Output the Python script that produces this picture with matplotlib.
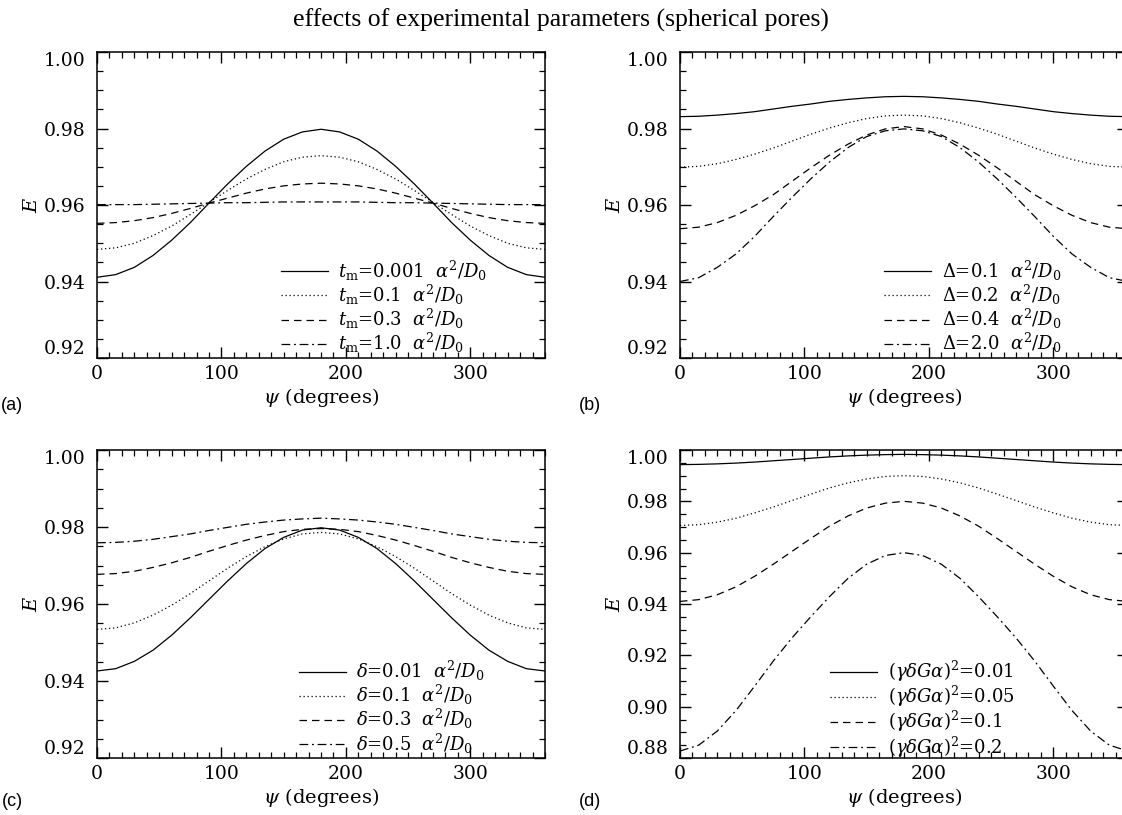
import numpy as np
import matplotlib
matplotlib.use("Agg")
import matplotlib.pyplot as plt
from matplotlib.ticker import MultipleLocator

plt.rcParams['font.family'] = 'DejaVu Serif'
plt.rcParams['mathtext.fontset'] = 'dejavuserif'

# angle between the two gradient pulses, sampled every 15 degrees
psi = [0, 15, 30, 45, 60, 75, 90, 105, 120, 135, 150, 165, 180,
       195, 210, 225, 240, 255, 270, 285, 300, 315, 330, 345, 360]

# (a) mixing time t_m
tm_labels = [r'$t_{\rm m}$=0.001  $\alpha^2/D_0$', r'$t_{\rm m}$=0.1  $\alpha^2/D_0$',
             r'$t_{\rm m}$=0.3  $\alpha^2/D_0$', r'$t_{\rm m}$=1.0  $\alpha^2/D_0$']
tm_0001 = [0.9411, 0.9418, 0.9437, 0.9468, 0.9508, 0.9554, 0.9605, 0.9655, 0.9701, 0.9741, 0.9772, 0.9791, 0.9798,
           0.9791, 0.9772, 0.9741, 0.9701, 0.9655, 0.9605, 0.9554, 0.9508, 0.9468, 0.9437, 0.9418, 0.9411]
tm_01 = [0.9484, 0.9488, 0.9500, 0.9520, 0.9545, 0.9575, 0.9607, 0.9638, 0.9668, 0.9693, 0.9713, 0.9725, 0.9729,
         0.9725, 0.9713, 0.9693, 0.9668, 0.9638, 0.9607, 0.9575, 0.9545, 0.9520, 0.9500, 0.9488, 0.9484]
tm_03 = [0.9552, 0.9554, 0.9559, 0.9567, 0.9578, 0.9591, 0.9605, 0.9618, 0.9631, 0.9642, 0.9650, 0.9655, 0.9657,
         0.9655, 0.9650, 0.9642, 0.9631, 0.9618, 0.9605, 0.9591, 0.9578, 0.9567, 0.9559, 0.9554, 0.9552]
tm_10 = [0.9601, 0.9601, 0.9601, 0.9602, 0.9603, 0.9604, 0.9605, 0.9606, 0.9606, 0.9607, 0.9608, 0.9608, 0.9608,
         0.9608, 0.9608, 0.9607, 0.9606, 0.9606, 0.9605, 0.9604, 0.9603, 0.9602, 0.9601, 0.9601, 0.9601]

# (b) diffusion time Delta
Delta_labels = [r'$\Delta$=0.1  $\alpha^2/D_0$', r'$\Delta$=0.2  $\alpha^2/D_0$',
                r'$\Delta$=0.4  $\alpha^2/D_0$', r'$\Delta$=2.0  $\alpha^2/D_0$']
Delta_01 = [0.9831, 0.9832, 0.9835, 0.9839, 0.9844, 0.9851, 0.9858, 0.9864, 0.9871, 0.9876, 0.9880, 0.9883, 0.9884,
            0.9883, 0.9880, 0.9876, 0.9871, 0.9864, 0.9858, 0.9851, 0.9844, 0.9839, 0.9835, 0.9832, 0.9831]
Delta_02 = [0.9699, 0.9701, 0.9708, 0.9719, 0.9733, 0.9749, 0.9767, 0.9785, 0.9801, 0.9815, 0.9826, 0.9833, 0.9835,
            0.9833, 0.9826, 0.9815, 0.9801, 0.9785, 0.9767, 0.9749, 0.9733, 0.9719, 0.9708, 0.9701, 0.9699]
Delta_04 = [0.9538, 0.9542, 0.9554, 0.9573, 0.9598, 0.9627, 0.9662, 0.9697, 0.9730, 0.9759, 0.9783, 0.9799, 0.9805,
            0.9799, 0.9783, 0.9759, 0.9730, 0.9697, 0.9662, 0.9627, 0.9598, 0.9573, 0.9554, 0.9542, 0.9538]
Delta_20 = [0.9400, 0.9410, 0.9437, 0.9472, 0.9518, 0.9570, 0.9620, 0.9668, 0.9712, 0.9750, 0.9779, 0.9794, 0.9799,
            0.9794, 0.9779, 0.9750, 0.9712, 0.9668, 0.9620, 0.9570, 0.9518, 0.9472, 0.9437, 0.9410, 0.9400]

# (c) pulse width delta
delta_labels = [r'$\delta$=0.01  $\alpha^2/D_0$', r'$\delta$=0.1  $\alpha^2/D_0$',
                r'$\delta$=0.3  $\alpha^2/D_0$', r'$\delta$=0.5  $\alpha^2/D_0$']
delta_001 = [0.9426, 0.9432, 0.9451, 0.9480, 0.9519, 0.9564, 0.9612, 0.9660, 0.9705, 0.9744, 0.9773, 0.9792, 0.9798,
             0.9792, 0.9773, 0.9744, 0.9705, 0.9660, 0.9612, 0.9564, 0.9519, 0.9480, 0.9451, 0.9432, 0.9426]
delta_01 = [0.9534, 0.9538, 0.9551, 0.9571, 0.9597, 0.9627, 0.9660, 0.9693, 0.9723, 0.9749, 0.9769, 0.9782, 0.9786,
            0.9782, 0.9769, 0.9749, 0.9723, 0.9693, 0.9660, 0.9627, 0.9597, 0.9571, 0.9551, 0.9538, 0.9534]
delta_03 = [0.9677, 0.9679, 0.9685, 0.9695, 0.9707, 0.9721, 0.9737, 0.9752, 0.9766, 0.9778, 0.9788, 0.9794, 0.9796,
            0.9794, 0.9788, 0.9778, 0.9766, 0.9752, 0.9737, 0.9721, 0.9707, 0.9695, 0.9685, 0.9679, 0.9677]
delta_05 = [0.9759, 0.9760, 0.9763, 0.9768, 0.9775, 0.9782, 0.9791, 0.9799, 0.9807, 0.9813, 0.9818, 0.9821, 0.9823,
            0.9821, 0.9818, 0.9813, 0.9807, 0.9799, 0.9791, 0.9782, 0.9775, 0.9768, 0.9763, 0.9760, 0.9759]

# (d) gradient strength (gamma delta G a)^2
q_labels = [r'$(\gamma\delta G\alpha)^2$=0.01', r'$(\gamma\delta G\alpha)^2$=0.05',
            r'$(\gamma\delta G\alpha)^2$=0.1', r'$(\gamma\delta G\alpha)^2$=0.2']
q_001 = [0.9943, 0.9944, 0.9946, 0.9949, 0.9953, 0.9958, 0.9963, 0.9968, 0.9973, 0.9977, 0.9980, 0.9982, 0.9983,
         0.9982, 0.9980, 0.9977, 0.9973, 0.9968, 0.9963, 0.9958, 0.9953, 0.9949, 0.9946, 0.9944, 0.9943]
q_005 = [0.9706, 0.9709, 0.9719, 0.9734, 0.9755, 0.9778, 0.9803, 0.9828, 0.9852, 0.9872, 0.9887, 0.9897, 0.9900,
         0.9897, 0.9887, 0.9872, 0.9852, 0.9828, 0.9803, 0.9778, 0.9755, 0.9734, 0.9719, 0.9709, 0.9706]
q_01 = [0.9410, 0.9417, 0.9436, 0.9467, 0.9508, 0.9555, 0.9605, 0.9655, 0.9703, 0.9743, 0.9774, 0.9793, 0.9800,
        0.9793, 0.9774, 0.9743, 0.9703, 0.9655, 0.9605, 0.9555, 0.9508, 0.9467, 0.9436, 0.9417, 0.9410]
q_02 = [0.8827, 0.8850, 0.8905, 0.8985, 0.9080, 0.9178, 0.9268, 0.9350, 0.9428, 0.9500, 0.9555, 0.9589, 0.9600,
        0.9589, 0.9555, 0.9500, 0.9428, 0.9350, 0.9268, 0.9178, 0.9080, 0.8985, 0.8905, 0.8850, 0.8827]

# solid, dotted, dashed, dash-dot like the IDL linestyles
styles = ['-', (0, (1, 2.2)), (0, (6, 4)), (0, (7, 3, 1.5, 3))]


def draw_panel(ax, curves, labels, ylo, yticks, leg_x, leg_y):
    for y, lab, ls in zip(curves, labels, styles):
        ax.plot(psi, y, color='black', lw=0.9, ls=ls, label=lab)
    ax.set_xlim(0, 360)
    ax.set_ylim(ylo, 1.0)
    ax.set_xticks([0, 100, 200, 300])
    ax.set_yticks(yticks)
    ax.set_yticklabels(['%.2f' % t for t in yticks])
    ax.xaxis.set_minor_locator(MultipleLocator(10))
    ax.yaxis.set_minor_locator(MultipleLocator(0.005))
    ax.tick_params(which='both', direction='in', top=True, right=True, labelsize=13.5)
    ax.tick_params(which='major', length=8, width=1.0)
    ax.tick_params(which='minor', length=4, width=0.9)
    ax.tick_params(axis='x', pad=5)
    ax.tick_params(axis='y', pad=8.5)
    for s in ax.spines.values():
        s.set_linewidth(1.1)
    # IDL pushes the end labels inside the axis range
    yl = ax.get_yticklabels()
    yl[0].set_va('bottom')
    yl[-1].set_va('top')
    ax.set_ylabel(r'$E$', fontsize=14, labelpad=2)
    ax.set_xlabel(r'$\psi$ (degrees)', fontsize=14, labelpad=2)
    ax.legend(loc='upper left', bbox_to_anchor=(leg_x, leg_y), frameon=False,
              fontsize=13, handlelength=2.6, handletextpad=0.6, labelspacing=0.0,
              borderpad=0, borderaxespad=0)


fig = plt.figure(figsize=(11.22, 8.15), dpi=100)
W, H = 1122.0, 815.0
ax_a = fig.add_axes([97 / W, 1 - 358 / H, 448 / W, 306 / H])
ax_b = fig.add_axes([680 / W, 1 - 358 / H, 448 / W, 306 / H])
ax_c = fig.add_axes([97 / W, 1 - 758 / H, 448 / W, 308 / H])
ax_d = fig.add_axes([680 / W, 1 - 758 / H, 448 / W, 308 / H])

draw_panel(ax_a, [tm_0001, tm_01, tm_03, tm_10], tm_labels, 0.92,
           [0.92, 0.94, 0.96, 0.98, 1.00], 0.41, 0.325)
draw_panel(ax_b, [Delta_01, Delta_02, Delta_04, Delta_20], Delta_labels, 0.92,
           [0.92, 0.94, 0.96, 0.98, 1.00], 0.455, 0.325)
draw_panel(ax_c, [delta_001, delta_01, delta_03, delta_05], delta_labels, 0.92,
           [0.92, 0.94, 0.96, 0.98, 1.00], 0.45, 0.322)
draw_panel(ax_d, [q_001, q_005, q_01, q_02], q_labels, 0.88,
           [0.88, 0.90, 0.92, 0.94, 0.96, 0.98, 1.00], 0.335, 0.322)

for tag, x, y in [('(a)', 12, 406), ('(b)', 590, 406), ('(c)', 12, 801), ('(d)', 590, 801)]:
    fig.text(x / W, 1 - y / H, tag, ha='center', va='center', fontsize=13,
             family='Liberation Sans')

fig.text(0.5, 1 - 20 / H, 'effects of experimental parameters (spherical pores)',
         ha='center', va='center', fontsize=18.5, family='Liberation Serif')

fig.savefig('out.png', dpi=100)
